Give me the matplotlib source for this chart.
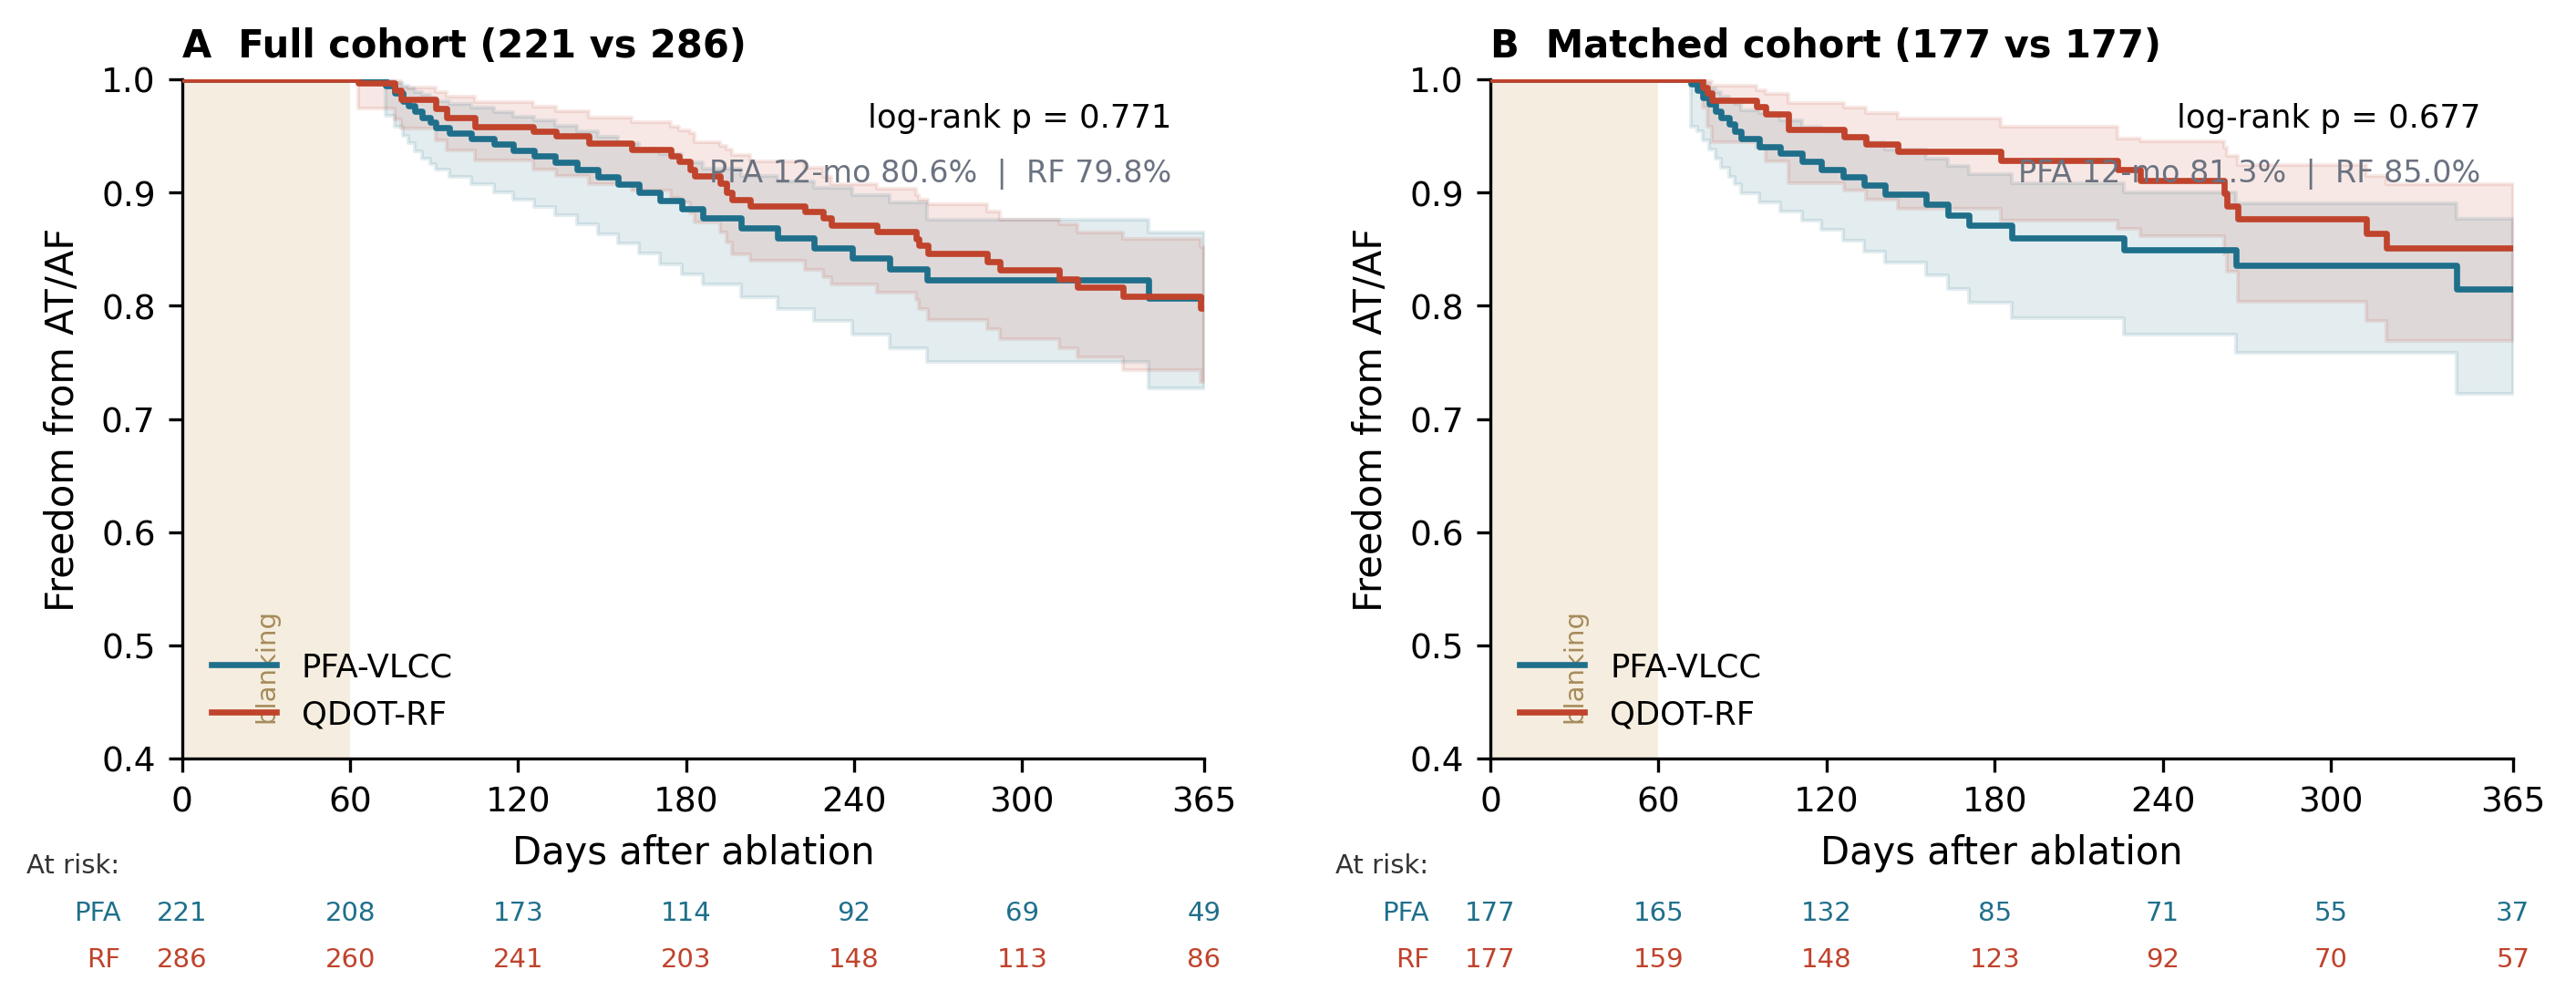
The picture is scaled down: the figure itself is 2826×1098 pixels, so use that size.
import matplotlib
matplotlib.use("Agg")
import matplotlib.pyplot as plt
import matplotlib.transforms as mtransforms
import numpy as np

# ---- data ----
# full cohort, PFA-VLCC
full_pfa_t = [0, 72.7, 76.0, 78.7, 80.9, 83.0, 85.8, 88.5, 90.6, 95.5, 103.1, 111.3, 118.1,
              125.7, 133.3, 140.9, 148.5, 155.5, 163.1, 170.7, 178.3, 185.9, 199.5, 212.7,
              225.8, 239.3, 252.7, 265.9, 345.2]
full_pfa_s = [1.0, 0.9944, 0.9877, 0.981, 0.9769, 0.9715, 0.9662, 0.9621, 0.9573, 0.9527, 0.9479,
              0.9425, 0.9372, 0.9326, 0.9264, 0.92, 0.9138, 0.9071, 0.9004, 0.8932, 0.8856,
              0.8776, 0.869, 0.8602, 0.8507, 0.8422, 0.8325, 0.823, 0.8065]
full_pfa_lo = [1.0, 0.9675, 0.9581, 0.950, 0.9433, 0.9366, 0.930, 0.925, 0.9205, 0.9138, 0.9071,
               0.9004, 0.8937, 0.887, 0.8803, 0.8722, 0.8628, 0.8548, 0.8459, 0.8368, 0.8279,
               0.8185, 0.8078, 0.797, 0.7863, 0.7742, 0.7622, 0.750, 0.7272]
full_pfa_hi = [1.0, 0.999, 0.997, 0.994, 0.992, 0.989, 0.986, 0.984, 0.981, 0.978, 0.975, 0.971,
               0.967, 0.964, 0.959, 0.954, 0.949, 0.944, 0.939, 0.934, 0.927, 0.921, 0.915,
               0.910, 0.904, 0.898, 0.891, 0.876, 0.865]

# full cohort, QDOT-RF
full_rf_t = [0, 63.0, 76.0, 78.1, 90.6, 94.4, 104.7, 125.4, 133.5, 145.4, 160.6, 174.7, 177.5,
             181.3, 182.9, 192.1, 194.3, 196.5, 203.0, 222.5, 229.0, 231.7, 248.0, 262.1,
             263.2, 266.5, 287.6, 292.0, 313.1, 319.7, 335.9, 363.6]
full_rf_s = [1.0, 0.9965, 0.9903, 0.9823, 0.9742, 0.966, 0.958, 0.954, 0.950, 0.9433, 0.938,
             0.9326, 0.9273, 0.9205, 0.915, 0.9085, 0.9004, 0.8937, 0.8883, 0.883, 0.8776,
             0.8714, 0.8655, 0.8588, 0.8534, 0.8459, 0.8387, 0.8314, 0.8239, 0.8164, 0.8083,
             0.798]
full_rf_lo = [1.0, 0.974, 0.9648, 0.9568, 0.946, 0.9372, 0.9286, 0.9205, 0.915, 0.907, 0.9017,
              0.895, 0.891, 0.882, 0.8736, 0.865, 0.856, 0.8454, 0.840, 0.832, 0.825, 0.8185,
              0.8118, 0.805, 0.797, 0.7877, 0.779, 0.7707, 0.7622, 0.754, 0.7433, 0.7326]
full_rf_hi = [1.0, 1.0, 0.998, 0.993, 0.989, 0.985, 0.9796, 0.9756, 0.9715, 0.966, 0.962, 0.958,
              0.955, 0.9527, 0.9447, 0.941, 0.938, 0.933, 0.9273, 0.922, 0.914, 0.907, 0.903,
              0.898, 0.894, 0.8897, 0.883, 0.876, 0.872, 0.8647, 0.8588, 0.852]

# matched cohort, PFA-VLCC
match_pfa_t = [0, 71.6, 73.7, 75.9, 78.1, 80.2, 82.4, 85.1, 87.3, 89.5, 96.0, 103.6, 111.2,
               118.2, 125.8, 133.4, 141.0, 155.6, 163.2, 170.8, 186.0, 226.1, 266.2, 344.8]
match_pfa_s = [1.0, 0.9957, 0.9903, 0.9836, 0.9783, 0.9715, 0.9662, 0.9608, 0.9541, 0.9474,
               0.9407, 0.9345, 0.9273, 0.9205, 0.9138, 0.9066, 0.8985, 0.8897, 0.8803, 0.8709,
               0.8601, 0.8494, 0.836, 0.8145]
match_pfa_lo = [1.0, 0.9581, 0.9541, 0.946, 0.938, 0.930, 0.9219, 0.9138, 0.907, 0.8991, 0.891,
                0.8835, 0.8749, 0.8669, 0.8575, 0.848, 0.8379, 0.8266, 0.8145, 0.8024, 0.789,
                0.7742, 0.7581, 0.7224]
match_pfa_hi = [1.0, 1.0, 0.999, 0.996, 0.992, 0.989, 0.985, 0.981, 0.978, 0.9729, 0.970,
                0.9635, 0.958, 0.954, 0.950, 0.9447, 0.938, 0.930, 0.9232, 0.9165, 0.9085,
                0.9004, 0.8905, 0.877]

# matched cohort, QDOT-RF
match_rf_t = [0, 75.9, 77.5, 79.2, 94.9, 98.1, 106.3, 126.3, 133.9, 145.3, 182.2, 223.9, 232.0,
              261.9, 263.0, 266.8, 312.8, 319.9]
match_rf_s = [1.0, 0.993, 0.9877, 0.9817, 0.9756, 0.9694, 0.956, 0.9495, 0.9425, 0.936, 0.9286,
              0.9205, 0.9103, 0.899, 0.8878, 0.877, 0.8642, 0.8513]
match_rf_lo = [1.0, 0.975, 0.958, 0.9447, 0.9393, 0.9273, 0.9085, 0.9017, 0.8937, 0.8856,
               0.875, 0.868, 0.8615, 0.845, 0.83, 0.8038, 0.7863, 0.7689]
match_rf_hi = [1.0, 0.9995, 0.998, 0.9944, 0.990, 0.9871, 0.979, 0.9748, 0.970, 0.9656, 0.958,
               0.9474, 0.945, 0.9393, 0.9326, 0.9246, 0.915, 0.907]

risk_days = [0, 60, 120, 180, 240, 300, 365]
full_risk_pfa = [221, 208, 173, 114, 92, 69, 49]
full_risk_rf = [286, 260, 241, 203, 148, 113, 86]
match_risk_pfa = [177, 165, 132, 85, 71, 55, 37]
match_risk_rf = [177, 159, 148, 123, 92, 70, 57]

titles = ["A  Full cohort (221 vs 286)", "B  Matched cohort (177 vs 177)"]
logrank = ["log-rank p = 0.771", "log-rank p = 0.677"]
twelve_mo = ["PFA 12-mo 80.6%  |  RF 79.8%", "PFA 12-mo 81.3%  |  RF 85.0%"]

C_PFA = "#1f6f8b"
C_RF = "#c0432c"
HORIZON = 365


def ext(t, v):
    # carry the last value to the end of follow-up
    return np.append(t, HORIZON), np.append(v, v[-1])


def draw_km(ax, t, s, lo, hi, color, label):
    tt, ss = ext(t, s)
    _, ll = ext(t, lo)
    _, hh = ext(t, hi)
    ax.fill_between(tt, ll, hh, step="post", color=color, alpha=0.12, zorder=2)
    ax.step(tt, ss, where="post", color=color, lw=1.6, label=label, zorder=3)


fig = plt.figure(figsize=(9.423, 3.663), dpi=300)
axes = [fig.add_axes([0.0707, 0.242, 0.3966, 0.678]),
        fig.add_axes([0.5784, 0.242, 0.3968, 0.678])]

panels = [
    (full_pfa_t, full_pfa_s, full_pfa_lo, full_pfa_hi,
     full_rf_t, full_rf_s, full_rf_lo, full_rf_hi, full_risk_pfa, full_risk_rf),
    (match_pfa_t, match_pfa_s, match_pfa_lo, match_pfa_hi,
     match_rf_t, match_rf_s, match_rf_lo, match_rf_hi, match_risk_pfa, match_risk_rf),
]

for i, ax in enumerate(axes):
    pt, ps, plo, phi, rt, rs, rlo, rhi, npfa, nrf = panels[i]
    tr = mtransforms.blended_transform_factory(ax.transData, ax.transAxes)

    ax.axvspan(0, 60, color="#f5eddf", lw=0, zorder=1)
    ax.text(30, 0.138, "blanking", rotation=90, ha="center", va="center",
            fontsize=7, color="#a68b5b", transform=tr)

    draw_km(ax, pt, ps, plo, phi, C_PFA, "PFA-VLCC")
    draw_km(ax, rt, rs, rlo, rhi, C_RF, "QDOT-RF")

    ax.set_xlim(0, HORIZON)
    ax.set_ylim(0.4, 1.0)
    ax.set_xticks(risk_days)
    ax.set_yticks(np.arange(0.4, 1.01, 0.1))
    ax.set_yticklabels([f"{v:.1f}" for v in np.arange(0.4, 1.01, 0.1)])
    ax.tick_params(labelsize=9)
    ax.spines["top"].set_visible(False)
    ax.spines["right"].set_visible(False)
    ax.set_xlabel("Days after ablation", fontsize=10)
    ax.set_ylabel("Freedom from AT/AF", fontsize=10, labelpad=5)
    ax.set_title(titles[i], loc="left", fontsize=10, fontweight="bold")

    ax.text(0.968, 0.930, logrank[i], transform=ax.transAxes, ha="right", va="baseline", fontsize=8.5)
    ax.text(0.968, 0.850, twelve_mo[i], transform=ax.transAxes, ha="right", va="baseline",
            fontsize=8, color="#6b7280")

    ax.legend(loc="lower left", frameon=False, fontsize=8.5)

    # number at risk table under the axis
    ax.text(-0.152, -0.157, "At risk:", transform=ax.transAxes, ha="left", va="center",
            fontsize=7, color="#333333")
    ax.text(-0.06, -0.227, "PFA", transform=ax.transAxes, ha="right", va="center",
            fontsize=7, color=C_PFA)
    ax.text(-0.06, -0.295, "RF", transform=ax.transAxes, ha="right", va="center",
            fontsize=7, color=C_RF)
    for d, a, b in zip(risk_days, npfa, nrf):
        ax.text(d, -0.227, str(a), transform=tr, ha="center", va="center", fontsize=7, color=C_PFA)
        ax.text(d, -0.295, str(b), transform=tr, ha="center", va="center", fontsize=7, color=C_RF)

fig.savefig("out.png", dpi=300)
